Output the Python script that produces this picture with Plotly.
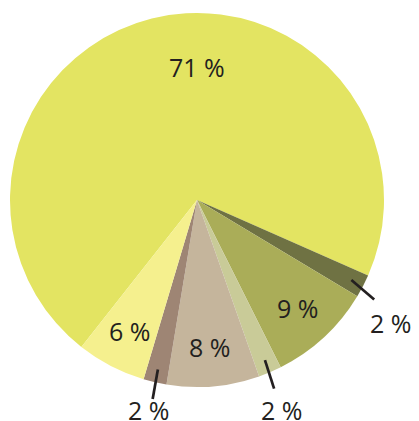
import math
import plotly.graph_objects as go

labels = ["A", "B", "C", "D", "E", "F", "G"]
values = [71, 2, 9, 2, 8, 2, 6]
text_labels = ["71 %", "2 %", "9 %", "2 %", "8 %", "2 %", "6 %"]
colors = ["#e3e462", "#6f7243", "#aaad58", "#c9cb98", "#c5b59c", "#9e8574", "#f5f08e"]

# page body has an 8px default margin, so the figure starts at (8, 8)
OFF = 8
W, H = 419 - OFF, 421 - OFF
CX, CY, R = 197 - OFF, 200 - OFF, 187
ROT = 218.2
FONT = dict(family="Open Sans", size=25, color="#231f20")

small = [v < 5 for v in values]

fig = go.Figure(go.Pie(
    labels=labels,
    values=values,
    textinfo="none",
    marker=dict(colors=colors, line=dict(width=0)),
    sort=False,
    direction="clockwise",
    rotation=ROT,
    showlegend=False,
    hoverinfo="label+percent",
    domain=dict(x=[(CX - R) / W, (CX + R) / W], y=[1 - (CY + R) / H, 1 - (CY - R) / H]),
))

total = sum(values)
cum = 0
shapes, annos = [], []


def to_px(ang_deg, rf):
    a = math.radians(ang_deg)
    return CX + math.sin(a) * R * rf, CY - math.cos(a) * R * rf


def paper(x, y):
    return x / W, 1 - y / H


for v, t, s in zip(values, text_labels, small):
    mid = ROT + (cum + v / 2) / total * 360
    cum += v
    if s:
        a = math.radians(mid)
        ux, uy = math.sin(a), -math.cos(a)
        dx, dy = ux, uy + 0.3
        n = math.hypot(dx, dy)
        dx, dy = dx / n, dy / n
        sx, sy = to_px(mid, 0.93)
        ex, ey = sx + dx * 30, sy + dy * 30
        x0, y0 = paper(sx, sy)
        x1, y1 = paper(ex, ey)
        shapes.append(dict(type="line", xref="paper", yref="paper", x0=x0, y0=y0, x1=x1, y1=y1,
                           line=dict(color="#231f20", width=2.7)))
        lx, ly = paper(ex + ux * 18, min(ey + 23, H - 11))
    elif v / total > 0.5:
        lx, ly = paper(*to_px(0, 0.71))
    else:
        lx, ly = paper(*to_px(mid, 0.79))
    annos.append(dict(text=t, x=lx, y=ly, xref="paper", yref="paper", showarrow=False,
                      font=FONT, xanchor="center", yanchor="middle"))

fig.update_layout(
    width=W, height=H,
    margin=dict(l=0, r=0, t=0, b=0),
    paper_bgcolor="white",
    plot_bgcolor="white",
    shapes=shapes,
    annotations=annos,
)
fig.write_html("out.html")
